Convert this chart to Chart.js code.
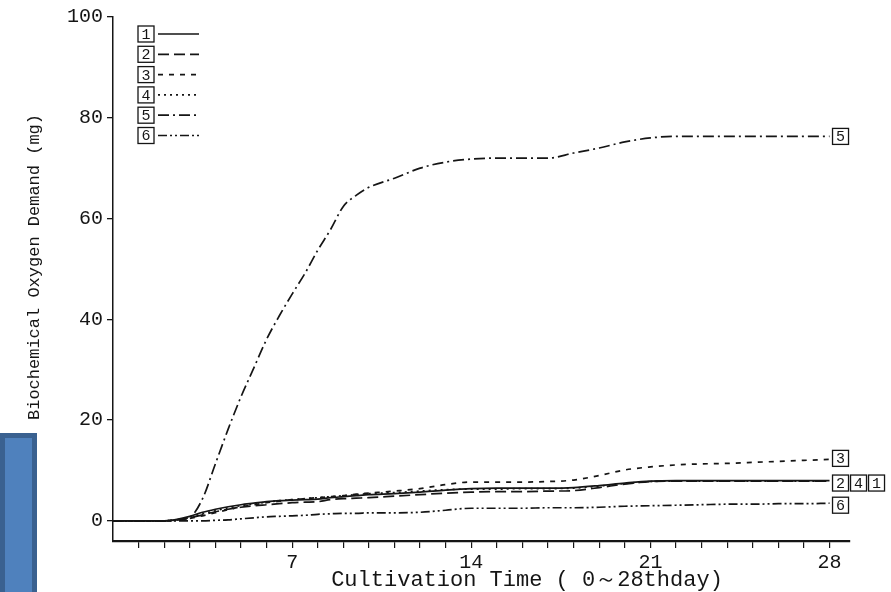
<!DOCTYPE html>
<html>
<head>
<meta charset="utf-8">
<script src="https://cdn.jsdelivr.net/npm/chart.js@4.4.1/dist/chart.umd.min.js"></script>
<style>
  body { margin: 0; background: #fff; }
  #wrap { position: relative; width: 891px; height: 592px; }
  #blueTab { position: absolute; left: 0; top: 433px; width: 27px; height: 154px;
             background: #4f81bd; border: 5px solid #3a6190; border-bottom: none; }
</style>
</head>
<body>
<div id="wrap">
  <canvas id="bodChart" width="891" height="592"></canvas>
  <div id="blueTab"></div>
</div>
<script>
// cultivation day of each reading
const days = [0, 1, 2, 2.5, 3, 3.5, 4, 4.5, 5, 5.5, 6, 6.5, 7, 7.5, 8, 8.5, 9, 9.5,
              10, 11, 12, 13, 14, 15, 16, 17, 18, 19, 20, 21, 22, 23, 24, 25, 26, 27, 28];

// BOD (mg) per sample
const bod1 = [0, 0, 0, 0.3, 0.9, 1.7, 2.3, 2.8, 3.2, 3.5, 3.8, 4.0, 4.1, 4.2, 4.3, 4.6, 4.8, 5.0,
              5.2, 5.4, 5.7, 6.1, 6.4, 6.5, 6.5, 6.5, 6.6, 7.0, 7.5, 7.9, 8.0, 8.0, 8.0, 8.0, 8.0, 8.0, 8.0];
const bod2 = [0, 0, 0, 0.2, 0.6, 1.2, 1.8, 2.3, 2.7, 3.0, 3.2, 3.4, 3.6, 3.7, 3.8, 4.2, 4.4, 4.5,
              4.6, 4.9, 5.2, 5.5, 5.7, 5.8, 5.8, 5.9, 6.0, 6.6, 7.3, 7.8, 7.9, 7.9, 7.9, 7.9, 7.9, 7.9, 7.9];
const bod3 = [0, 0, 0, 0.2, 0.5, 1.0, 1.6, 2.2, 2.8, 3.2, 3.6, 3.9, 4.2, 4.4, 4.6, 4.8, 5.0, 5.3,
              5.5, 5.9, 6.4, 7.2, 7.7, 7.7, 7.7, 7.8, 8.1, 9.0, 10.1, 10.7, 11.1, 11.3, 11.4, 11.6, 11.8, 12.0, 12.2];
const bod4 = [0, 0, 0, 0.2, 0.7, 1.4, 2.0, 2.6, 3.0, 3.4, 3.7, 4.0, 4.2, 4.4, 4.6, 4.8, 5.0, 5.2,
              5.4, 5.6, 5.9, 6.2, 6.3, 6.3, 6.4, 6.4, 6.5, 6.9, 7.4, 7.8, 7.9, 7.9, 7.9, 7.9, 7.9, 7.9, 7.9];
const bod5 = [0, 0, 0, 0.2, 0.7, 4.4, 11.3, 18.2, 24.6, 30.3, 36, 40.7, 45, 49.1, 53.7, 57.8, 62.4, 64.6,
              66.2, 68, 70, 71.2, 71.8, 72, 72, 72, 73, 74, 75.2, 76, 76.3, 76.3, 76.3, 76.3, 76.3, 76.3, 76.3];
const bod6 = [0, 0, 0, 0, 0, 0, 0.1, 0.2, 0.4, 0.6, 0.8, 0.9, 1.0, 1.1, 1.3, 1.4, 1.5, 1.5,
              1.6, 1.6, 1.7, 2.1, 2.5, 2.5, 2.5, 2.6, 2.6, 2.7, 2.9, 3.0, 3.1, 3.2, 3.3, 3.3, 3.4, 3.4, 3.5];

const sampleNames = ['1', '2', '3', '4', '5', '6'];
const yTicks = [0, 20, 40, 60, 80, 100];
const xTickDays = [1, 2, 3, 4, 5, 6, 7, 8, 9, 10, 11, 12, 13, 14, 15, 16, 17, 18, 19, 20, 21, 22, 23, 24, 25, 26, 27, 28];
const xLabelDays = [7, 14, 21, 28];
const xTitle = 'Cultivation Time ( 0～28thday)';
const yTitle = 'Biochemical Oxygen Demand (mg)';

const allSeries = [bod1, bod2, bod3, bod4, bod5, bod6];
const dashStyles = [[], [11, 5], [5, 6], [2, 4], [11, 4, 2, 4], [9, 3, 2, 3, 2, 3]];
const ink = '#151515';

const datasets = allSeries.map((vals, i) => ({
    label: sampleNames[i],
    data: days.map((d, k) => ({ x: d, y: vals[k] })),
    borderColor: ink,
    borderWidth: 1.7,
    borderDash: dashStyles[i],
    pointRadius: 0,
    fill: false,
    cubicInterpolationMode: 'monotone'
}));

// boxed numbers (legend + line ends) and axis titles
const paperMarks = {
    id: 'paperMarks',
    afterDraw(chart) {
        const ctx = chart.ctx;
        const xs = chart.scales.x, ys = chart.scales.y;

        function boxed(txt, x, yMid) {
            ctx.save();
            ctx.strokeStyle = ink;
            ctx.lineWidth = 1.3;
            ctx.strokeRect(x, yMid - 8, 16, 16);
            ctx.fillStyle = ink;
            ctx.font = '15px "Liberation Mono"';
            ctx.textAlign = 'center';
            ctx.textBaseline = 'middle';
            ctx.fillText(txt, x + 8, yMid + 1);
            ctx.restore();
        }

        // legend
        sampleNames.forEach((name, i) => {
            const yRow = 34 + i * 20.3;
            boxed(name, 138, yRow);
            ctx.save();
            ctx.strokeStyle = ink;
            ctx.lineWidth = 1.7;
            ctx.setLineDash(dashStyles[i]);
            ctx.beginPath();
            ctx.moveTo(158, yRow);
            ctx.lineTo(199, yRow);
            ctx.stroke();
            ctx.restore();
        });

        // labels at the end of each curve
        const xEnd = xs.getPixelForValue(days[days.length - 1]) + 3;
        const last = i => allSeries[i][allSeries[i].length - 1];
        boxed('5', xEnd, ys.getPixelForValue(last(4)));
        boxed('3', xEnd, ys.getPixelForValue(last(2)) - 1);
        const yGroup = ys.getPixelForValue(last(1)) + 2;
        boxed('2', xEnd, yGroup);
        boxed('4', xEnd + 18, yGroup);
        boxed('1', xEnd + 36, yGroup);
        boxed('6', xEnd, ys.getPixelForValue(last(5)) + 2);

        // axis titles
        ctx.save();
        ctx.fillStyle = ink;
        ctx.textAlign = 'center';
        ctx.textBaseline = 'middle';
        ctx.font = '22px "Liberation Mono"';
        ctx.fillText(xTitle, 527, 580);
        ctx.translate(34, 267);
        ctx.rotate(-Math.PI / 2);
        ctx.font = '17px "Liberation Mono"';
        ctx.fillText(yTitle, 0, 0);
        ctx.restore();
    }
};

const ctxBod = document.getElementById('bodChart').getContext('2d');
const bodChart = new Chart(ctxBod, {
    type: 'line',
    data: { datasets: datasets },
    options: {
        responsive: false,
        animation: false,
        layout: { padding: { top: 17, right: 41, left: 0, bottom: 0 } },
        plugins: { legend: { display: false }, tooltip: { enabled: false } },
        scales: {
            x: {
                type: 'linear',
                min: 0,
                max: 28.8,
                afterBuildTicks: s => { s.ticks = xTickDays.map(v => ({ value: v })); },
                afterFit: s => { s.height = 51; },
                ticks: {
                    autoSkip: false,
                    maxRotation: 0,
                    padding: 3,
                    color: ink,
                    font: { family: 'Liberation Mono', size: 20 },
                    callback: v => xLabelDays.includes(v) ? String(v) : ''
                },
                grid: { drawOnChartArea: false, tickLength: 7, color: ink, lineWidth: 1.2 },
                border: { color: ink, width: 2.2 }
            },
            y: {
                type: 'linear',
                min: -4,
                max: 100,
                afterBuildTicks: s => { s.ticks = yTicks.map(v => ({ value: v })); },
                afterFit: s => { s.width = 113; },
                ticks: {
                    padding: 4,
                    color: ink,
                    font: { family: 'Liberation Mono', size: 20 }
                },
                grid: { drawOnChartArea: false, tickLength: 6, color: ink, lineWidth: 1.3 },
                border: { color: ink, width: 1.5 }
            }
        }
    },
    plugins: [paperMarks]
});
</script>
</body>
</html>
